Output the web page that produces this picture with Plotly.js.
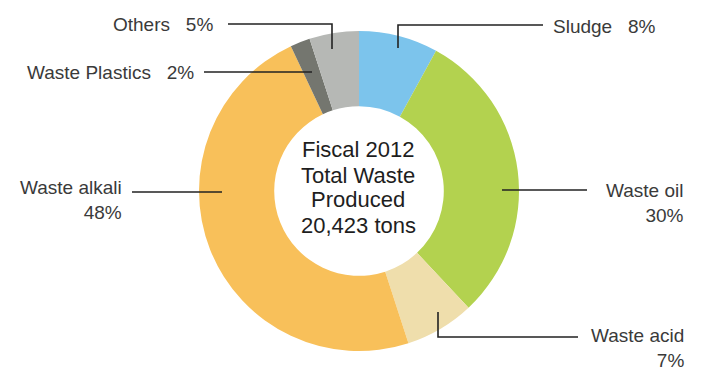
<!DOCTYPE html>
<html>
<head>
<meta charset="utf-8">
<script src="https://cdn.plot.ly/plotly-3.0.1.min.js"></script>
<style>html,body{margin:0;padding:0;background:#fff;}#chart{width:701px;height:371px;}</style>
</head>
<body>
<div id="chart"></div>
<script>
// ---- data ----
const categories = ["Sludge", "Waste oil", "Waste acid", "Waste alkali", "Waste Plastics", "Others"];
const shares = [8, 30, 7, 48, 2, 5];
const sliceColors = ["#7CC4EC", "#B3D24F", "#EFDEAC", "#F8C05A", "#74766F", "#B6B8B5"];
const centerLines = ["Fiscal 2012", "Total Waste", "Produced", "20,423 tons"];

// ---- layout helpers (pixel -> paper) ----
const W = 701, H = 371;
const px = x => x / W;
const py = y => 1 - y / H;

// label placement
const labelPos = {
  "Sludge":         {x: 551, y: 26,  xa: "left",  two: false},
  "Waste oil":      {x: 686, y: 203, xa: "right", two: true},
  "Waste acid":     {x: 686, y: 348, xa: "right", two: true},
  "Waste alkali":   {x: 124, y: 200, xa: "right", two: true},
  "Waste Plastics": {x: 196, y: 72,  xa: "right", two: false},
  "Others":         {x: 215, y: 24,  xa: "right", two: false}
};
// leader line paths in pixels
const leaderPaths = {
  "Sludge":         [[398, 48], [398, 25], [543, 25]],
  "Waste oil":      [[502, 190], [587, 190]],
  "Waste acid":     [[438, 312], [438, 337], [578, 337]],
  "Waste alkali":   [[132, 192], [222, 192]],
  "Waste Plastics": [[204, 72], [312, 72]],
  "Others":         [[228, 24], [332, 24], [332, 49]]
};

const labelFont = {family: "Liberation Sans, Arial, sans-serif", size: 19, color: "#3a3a3a"};
const annotations = [];
categories.forEach((c, i) => {
  const p = labelPos[c];
  const txt = p.two ? c + "<br>" + shares[i] + "%" : c + "\u00A0\u00A0\u00A0" + shares[i] + "%";
  annotations.push({
    text: txt, x: px(p.x), y: py(p.y), xref: "paper", yref: "paper",
    xanchor: p.xa, yanchor: "middle", align: "right", showarrow: false, font: labelFont
  });
});
const centerY = [150, 175, 200, 225];
centerLines.forEach((t, i) => {
  annotations.push({
    text: t, x: px(358), y: py(centerY[i]), xref: "paper", yref: "paper",
    xanchor: "center", yanchor: "middle", showarrow: false,
    font: {family: "Liberation Sans, Arial, sans-serif", size: 22, color: "#1e1e1e"}
  });
});

const shapes = categories.map(c => {
  const pts = leaderPaths[c];
  const d = pts.map((p, k) => (k ? "L" : "M") + px(p[0]) + "," + py(p[1])).join(" ");
  return {type: "path", xref: "paper", yref: "paper", path: d,
          line: {color: "#222", width: 1.6}};
});

const trace = {
  type: "pie",
  labels: categories,
  values: shares,
  sort: false,
  direction: "clockwise",
  rotation: 0,
  hole: 0.53,
  textinfo: "none",
  hoverinfo: "label+percent",
  marker: {colors: sliceColors, line: {width: 0}},
  domain: {x: [px(199), px(519)], y: [py(351), py(31)]},
  showlegend: false
};

const layout = {
  width: W, height: H,
  margin: {l: 0, r: 0, t: 0, b: 0},
  paper_bgcolor: "#fff",
  showlegend: false,
  annotations: annotations,
  shapes: shapes
};

Plotly.newPlot("chart", [trace], layout, {displayModeBar: false, staticPlot: true});
</script>
</body>
</html>
